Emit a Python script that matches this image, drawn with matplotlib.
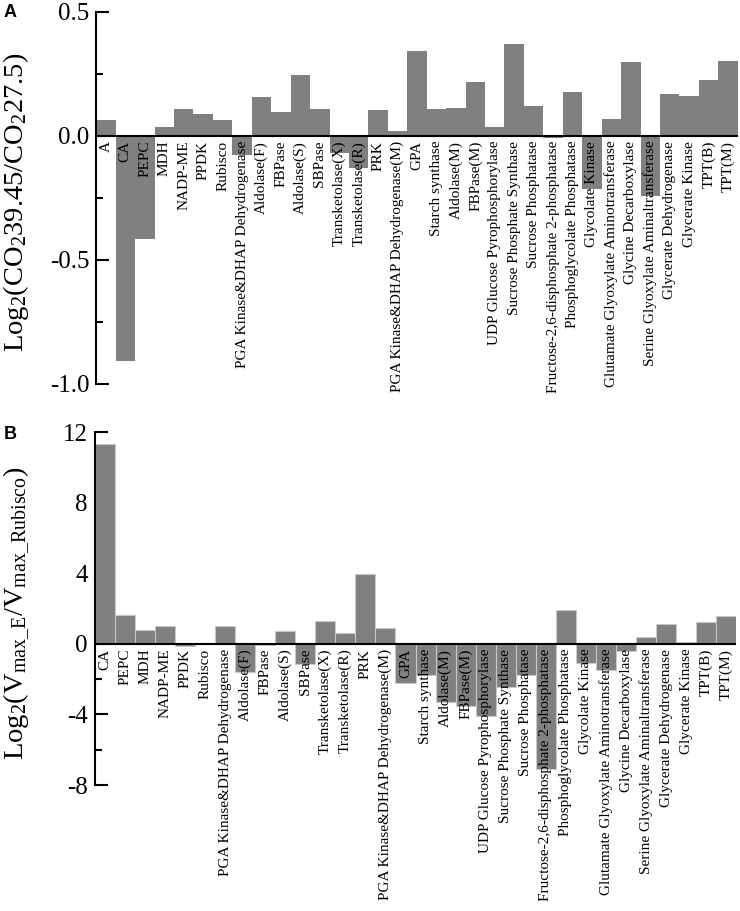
import matplotlib
matplotlib.use("Agg")
import matplotlib.pyplot as plt

plt.rcParams['font.family'] = ['Liberation Serif', 'DejaVu Serif']
plt.rcParams['mathtext.fontset'] = 'custom'
plt.rcParams['mathtext.rm'] = 'Liberation Serif'
plt.rcParams['mathtext.it'] = 'Liberation Serif:italic'

# enzymes shared by both panels (panel A also has "A" in front)
enzymes = ["CA", "PEPC", "MDH", "NADP-ME", "PPDK", "Rubisco",
           "PGA Kinase&DHAP Dehydrogenase", "Aldolase(F)", "FBPase",
           "Aldolase(S)", "SBPase", "Transketolase(X)", "Transketolase(R)",
           "PRK", "PGA Kinase&DHAP Dehydrogenase(M)", "GPA", "Starch synthase",
           "Aldolase(M)", "FBPase(M)", "UDP Glucose Pyrophosphorylase",
           "Sucrose Phosphate Synthase", "Sucrose Phosphatase",
           "Fructose-2,6-disphosphate 2-phosphatase",
           "Phosphoglycolate Phosphatase", "Glycolate Kinase",
           "Glutamate Glyoxylate Aminotransferase", "Glycine Decarboxylase",
           "Serine Glyoxylate Aminaltransferase", "Glycerate Dehydrogenase",
           "Glycerate Kinase", "TPT(B)", "TPT(M)"]
labels_a = ["A"] + enzymes
labels_b = enzymes

# panel A: log2 ratio of CO2 39.45 / CO2 27.5
vals_a = [0.063, -0.907, -0.414, 0.036, 0.109, 0.087, 0.065, -0.077,
          0.157, 0.095, 0.245, 0.109, -0.070, -0.130, 0.104, 0.020,
          0.343, 0.109, 0.113, 0.218, 0.038, 0.371, 0.121, -0.010,
          0.176, -0.215, 0.070, 0.298, -0.242, 0.168, 0.161, 0.224, 0.302]

# panel B: log2(Vmax_E / Vmax_Rubisco)
vals_b = [11.3, 1.62, 0.81, 1.0, -0.13, 0.0, 1.02, -1.57, -0.08, 0.70,
          -1.15, 1.30, 0.60, 3.96, 0.92, -2.23, -1.79, -3.32, -3.55, -4.08,
          -2.47, -1.74, -7.09, 1.94, -1.09, -1.47, -0.40, 0.36, 1.11, 0.11,
          1.23, 1.57]

BAR = '#808080'

fig = plt.figure(figsize=(7.4, 9.11), dpi=100)
axA = fig.add_axes([0.130, 1 - 384/911, 0.867, (384 - 12)/911])
axB = fig.add_axes([0.128, 1 - 785/911, 0.867, (785 - 432)/911])


def style(ax, labels, vals, edge):
    x = list(range(len(vals)))
    ax.bar(x, vals, width=1.0, color=BAR, edgecolor=edge,
           linewidth=0.8 if edge != 'none' else 0, zorder=2)
    ax.axhline(0, color='black', lw=1.5, zorder=3)
    ax.set_xlim(-0.5, len(vals) - 0.5)
    for s in ['top', 'right', 'bottom']:
        ax.spines[s].set_visible(False)
    ax.spines['left'].set_linewidth(1.5)
    ax.set_xticks([])
    ax.tick_params(axis='y', which='major', direction='in', length=9,
                   width=1.5, labelsize=18, pad=5)
    ax.tick_params(axis='y', which='minor', direction='in', length=5, width=1.5)
    for xi, lab in zip(x, labels):
        ax.annotate(lab, (xi, 0), xytext=(0, -3.5), textcoords='offset points',
                    rotation=90, ha='center', va='top', fontsize=11,
                    zorder=4, annotation_clip=False)


style(axA, labels_a, vals_a, 'none')
axA.set_ylim(-1.0, 0.5)
axA.set_yticks([-1.0, -0.5, 0.0, 0.5])
axA.set_yticks([-0.75, -0.25, 0.25], minor=True)
axA.set_yticklabels(['-1.0', '-0.5', '0.0', '0.5'], fontfamily='Liberation Serif')

style(axB, labels_b, vals_b, '#c8c8c8')
axB.set_ylim(-8, 12)
axB.set_yticks([-8, -4, 0, 4, 8, 12])
axB.set_yticks([-6, -2, 2, 6, 10], minor=True)
axB.set_yticklabels(['-8', '-4', '0', '4', '8', '12'], fontfamily='Liberation Serif')

fig.text(16/740, 1 - 202/911, r'Log$_2$(CO$_2$39.45/CO$_2$27.5)',
         rotation=90, ha='center', va='center', fontsize=20.5)
fig.text(17/740, 1 - 613/911,
         r'Log$_2$(V$_{\mathrm{max\_E}}$/V$_{\mathrm{max\_Rubisco}}$)',
         rotation=90, ha='center', va='center', fontsize=20.5)

fig.text(4/740, 1 - 4/911, 'A', family='Liberation Sans', weight='bold',
         fontsize=13, ha='left', va='top')
fig.text(4/740, 1 - 426/911, 'B', family='Liberation Sans', weight='bold',
         fontsize=13, ha='left', va='top')

fig.savefig('out.png', dpi=100)
